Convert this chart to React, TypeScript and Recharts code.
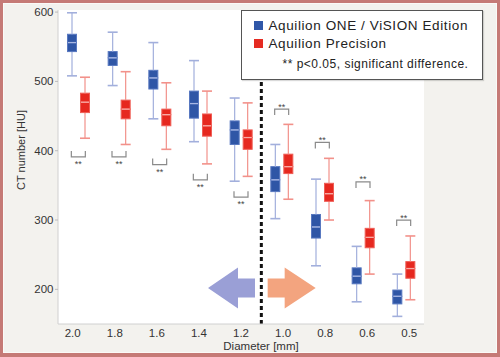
import React from 'react';
import { ComposedChart, Bar, Scatter, XAxis, YAxis, ReferenceLine, ReferenceDot, Legend, CartesianGrid } from 'recharts';

const diameters = ['2.0', '1.8', '1.6', '1.4', '1.2', '1.0', '0.8', '0.6', '0.5'];

// Aquilion ONE / ViSION Edition
const oneMin = [508, 494, 446, 413, 356, 302, 234, 182, 161];
const oneQ1 = [543, 523, 489, 447, 409, 341, 274, 208, 179];
const oneMed = [556, 534, 505, 468, 430, 358, 290, 219, 190];
const oneQ3 = [568, 543, 516, 486, 443, 377, 308, 231, 199];
const oneMax = [599, 571, 556, 530, 476, 409, 359, 262, 222];

// Aquilion Precision
const precMin = [418, 409, 402, 381, 363, 330, 300, 222, 185];
const precQ1 = [455, 446, 436, 421, 402, 367, 327, 260, 216];
const precMed = [470, 460, 452, 436, 419, 377, 338, 275, 230];
const precQ3 = [483, 473, 460, 453, 430, 395, 353, 288, 240];
const precMax = [506, 514, 498, 486, 469, 438, 389, 328, 277];

// significance brackets (** p<0.05)
const sigLevel = [391, 391, 380, 358, 333, 460, 412, 355, 300];
const sigAbove = [false, false, false, false, false, true, true, true, true];

const seriesNames = ['Aquilion ONE / ViSION Edition', 'Aquilion Precision'];
const noteText = '** p<0.05, significant difference.';
const yTicks = [200, 300, 400, 500, 600];

const FONT = '"Liberation Sans", Arial, sans-serif';
const BLUE = { fill: '#2f56a6', edge: '#5878c0', whisk: '#a2afdc', mid: '#a8b7e3' };
const RED = { fill: '#e6281f', edge: '#ef5d55', whisk: '#f2918a', mid: '#f8aaa5' };

const data = diameters.map((d, i) => ({
  d,
  oBase: oneMin[i],
  oLw: oneQ1[i] - oneMin[i],
  oLb: oneMed[i] - oneQ1[i],
  oUb: oneQ3[i] - oneMed[i],
  oUw: oneMax[i] - oneQ3[i],
  pBase: precMin[i],
  pLw: precQ1[i] - precMin[i],
  pLb: precMed[i] - precQ1[i],
  pUb: precQ3[i] - precMed[i],
  pUw: precMax[i] - precQ3[i],
  sig: sigLevel[i],
  above: sigAbove[i],
}));

const lowerWhisker = (c: typeof BLUE) => (p: any) => {
  const cx = p.x + p.width / 2;
  const yb = p.y + p.height;
  return (
    <g>
      <line x1={cx} x2={cx} y1={p.y} y2={yb} stroke={c.whisk} strokeWidth={1.2} />
      <line x1={p.x} x2={p.x + p.width} y1={yb} y2={yb} stroke={c.whisk} strokeWidth={1.6} />
    </g>
  );
};

const upperWhisker = (c: typeof BLUE) => (p: any) => {
  const cx = p.x + p.width / 2;
  return (
    <g>
      <line x1={cx} x2={cx} y1={p.y} y2={p.y + p.height} stroke={c.whisk} strokeWidth={1.2} />
      <line x1={p.x} x2={p.x + p.width} y1={p.y} y2={p.y} stroke={c.whisk} strokeWidth={1.6} />
    </g>
  );
};

const lowerBox = (c: typeof BLUE) => (p: any) => (
  <rect x={p.x + 0.5} y={p.y} width={p.width - 1} height={p.height} fill={c.fill} stroke={c.edge} strokeWidth={1} />
);

const upperBox = (c: typeof BLUE) => (p: any) => {
  const yb = p.y + p.height;
  return (
    <g>
      <rect x={p.x + 0.5} y={p.y} width={p.width - 1} height={p.height} fill={c.fill} stroke={c.edge} strokeWidth={1} />
      <line x1={p.x + 1} x2={p.x + p.width - 1} y1={yb} y2={yb} stroke={c.mid} strokeWidth={1.3} />
    </g>
  );
};

const SigBracket = (p: any) => {
  const { cx, cy, payload } = p;
  const half = 7;
  const dir = payload.above ? 1 : -1;
  const arm = 6 * dir;
  return (
    <g>
      <path
        d={`M${cx - half},${cy + arm}L${cx - half},${cy}L${cx + half},${cy}L${cx + half},${cy + arm}`}
        fill="none"
        stroke="#8a8a8a"
        strokeWidth={1.2}
      />
      <text x={cx} y={payload.above ? cy + 0.5 : cy + 10} textAnchor="middle" fontSize={9} fill="#444" fontFamily={FONT}>
        **
      </text>
    </g>
  );
};

const LeftArrow = (p: any) => {
  const { cx, cy } = p;
  const pts = [
    [cx - 33, cy], [cx - 3, cy - 20.5], [cx - 3, cy - 9.5], [cx + 14, cy - 9.5],
    [cx + 14, cy + 9.5], [cx - 3, cy + 9.5], [cx - 3, cy + 20.5],
  ];
  return <polygon points={pts.map((q) => q.join(',')).join(' ')} fill="#9a9fd6" />;
};

const RightArrow = (p: any) => {
  const { cx, cy } = p;
  const pts = [
    [cx + 34, cy], [cx + 3, cy - 20.5], [cx + 3, cy - 9.5], [cx - 14, cy - 9.5],
    [cx - 14, cy + 9.5], [cx + 3, cy + 9.5], [cx + 3, cy + 20.5],
  ];
  return <polygon points={pts.map((q) => q.join(',')).join(' ')} fill="#f3a47f" />;
};

const XTick = (p: any) => {
  // labels in the original sit slightly wider apart than the bands
  const dx = (p.index - 4) * 1.4;
  return (
    <text x={p.x + dx} y={p.y} dy="0.71em" textAnchor="middle" fontSize={11.5} fill="#333" fontFamily={FONT}>
      {p.payload.value}
    </text>
  );
};

const LegendBox = () => (
  <div
    style={{
      position: 'relative',
      width: 242,
      height: 70,
      boxSizing: 'border-box',
      border: '1.5px solid #555',
      background: '#fff',
      boxShadow: '1px 1px 1px rgba(0,0,0,0.15)',
      fontFamily: FONT,
      color: '#222',
    }}
  >
    <div style={{ position: 'absolute', left: 11.5, top: 9.5, width: 9, height: 9, background: '#3057a8' }} />
    <div style={{ position: 'absolute', left: 26.5, top: 6, fontSize: 13.5, letterSpacing: 0.6, lineHeight: '17px', whiteSpace: 'nowrap' }}>
      {seriesNames[0]}
    </div>
    <div style={{ position: 'absolute', left: 11.5, top: 27.5, width: 9, height: 9, background: '#e52b22' }} />
    <div style={{ position: 'absolute', left: 26.5, top: 24, fontSize: 13.5, letterSpacing: 0.6, lineHeight: '17px', whiteSpace: 'nowrap' }}>
      {seriesNames[1]}
    </div>
    <div style={{ position: 'absolute', left: 40.5, top: 46, fontSize: 12, letterSpacing: 0.5, lineHeight: '15px', whiteSpace: 'nowrap' }}>
      {noteText}
    </div>
  </div>
);

const App: React.FC = () => {
  return (
    <div
      style={{
        position: 'absolute',
        left: 0,
        top: 0,
        width: 500,
        height: 357,
        background: '#f3f2ee',
        overflow: 'hidden',
      }}
    >
      <ComposedChart
        width={500}
        height={357}
        data={data}
        margin={{ top: 10, right: 76, bottom: 0, left: 0 }}
        barSize={10}
        barGap={3}
      >
        <CartesianGrid fill="#fff" horizontal={false} vertical={false} />
        <XAxis
          dataKey="d"
          height={33}
          tickLine={false}
          tickSize={0}
          tickMargin={5}
          axisLine={{ stroke: '#d0d0d0' }}
          tick={<XTick />}
          label={{
            content: (l: any) => (
              <text
                x={l.viewBox.x + l.viewBox.width / 2 + 20}
                y={l.viewBox.y + 26}
                textAnchor="middle"
                fontSize={11.5}
                fill="#333"
                fontFamily={FONT}
              >
                Diameter [mm]
              </text>
            ),
          }}
        />
        <XAxis xAxisId="top" orientation="top" dataKey="d" height={0} tick={false} tickLine={false} axisLine={{ stroke: '#d6d6d6' }} />
        <YAxis
          width={58}
          type="number"
          domain={[150, 603]}
          allowDataOverflow
          ticks={yTicks}
          tickSize={3}
          tickMargin={1.5}
          tickLine={{ stroke: '#bbb' }}
          axisLine={{ stroke: '#d0d0d0' }}
          tick={{ fontSize: 11.5, fill: '#333', fontFamily: FONT }}
          label={{
            content: (l: any) => {
              const x = l.viewBox.x + 21;
              const y = l.viewBox.y + l.viewBox.height / 2 - 17;
              return (
                <text x={x} y={y} transform={`rotate(-90, ${x}, ${y})`} textAnchor="middle" dominantBaseline="central" fontSize={11} fill="#333" fontFamily={FONT}>
                  CT number [HU]
                </text>
              );
            },
          }}
        />
        <YAxis yAxisId="right" orientation="right" width={0} domain={[0, 1]} tick={false} tickLine={false} axisLine={{ stroke: '#d6d6d6' }} />

        <ReferenceLine x="1.0" position="start" stroke="#111" strokeWidth={3} strokeDasharray="4 3" />
        <ReferenceDot x="1.2" y={202} r={1} shape={LeftArrow} />
        <ReferenceDot x="1.0" y={202} r={1} shape={RightArrow} />

        <Bar dataKey="oBase" stackId="one" fill="transparent" isAnimationActive={false} />
        <Bar dataKey="oLw" stackId="one" shape={lowerWhisker(BLUE)} isAnimationActive={false} />
        <Bar dataKey="oLb" stackId="one" shape={lowerBox(BLUE)} isAnimationActive={false} />
        <Bar dataKey="oUb" stackId="one" shape={upperBox(BLUE)} isAnimationActive={false} />
        <Bar dataKey="oUw" stackId="one" shape={upperWhisker(BLUE)} isAnimationActive={false} />

        <Bar dataKey="pBase" stackId="prec" fill="transparent" isAnimationActive={false} />
        <Bar dataKey="pLw" stackId="prec" shape={lowerWhisker(RED)} isAnimationActive={false} />
        <Bar dataKey="pLb" stackId="prec" shape={lowerBox(RED)} isAnimationActive={false} />
        <Bar dataKey="pUb" stackId="prec" shape={upperBox(RED)} isAnimationActive={false} />
        <Bar dataKey="pUw" stackId="prec" shape={upperWhisker(RED)} isAnimationActive={false} />

        <Scatter dataKey="sig" shape={SigBracket} isAnimationActive={false} />

        <Legend
          layout="vertical"
          verticalAlign="middle"
          align="center"
          content={<LegendBox />}
          wrapperStyle={{ left: 241, top: 10, width: 242, height: 70 }}
        />
      </ComposedChart>
      <div
        style={{
          position: 'absolute',
          left: 0,
          top: 0,
          width: 500,
          height: 357,
          boxSizing: 'border-box',
          border: '3px solid #c57a76',
          borderBottomWidth: 4,
          boxShadow: 'inset 0 0 0 1px #fbfaf7',
          pointerEvents: 'none',
        }}
      />
    </div>
  );
};

export default App;
